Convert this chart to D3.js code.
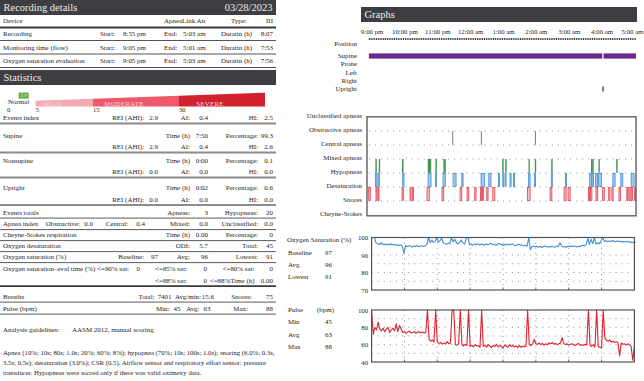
<!DOCTYPE html>
<html>
<head>
<meta charset="utf-8">
<script src="https://cdn.jsdelivr.net/npm/d3@7/dist/d3.min.js"></script>
<style>
html,body{margin:0;padding:0;background:#fff;overflow:hidden}
svg{display:block}
text{font-family:"Liberation Serif","Times New Roman",serif}
</style>
</head>
<body>
<svg id="chart" width="644" height="381"></svg>
<script>
// ---------------- DATA ----------------
const reportDate = "03/28/2023";
const deviceInfo = ["Device", "ApneaLink Air", "Type:", "III"];
const recordingLabels = ["Start:", "End:", "Duratin (h)"];
const recordingRows = [
  ["Recording", "8:55 pm", "5:03 am", "8:07"],
  ["Monitoring time (flow)", "9:05 pm", "5:01 am", "7:53"],
  ["Oxygen saturation evaluation", "9:05 pm", "5:03 am", "7:56"]
];
const severityBands = [["MILD", 5, 15], ["MODERATE", 15, 30], ["SEVERE", 30, 45]];
const severityTicks = [0, 5, 15, 30];
const normalLabel = "Normal";
const ahiValue = 2.9;

const statsRows = [
  ["Events index", [["p1", "REI (AHI):", "2.9"], ["p2", "AI:", "0.4"], ["p3", "HI:", "2.5"]]],
  ["Supine", [["p2", "Time (h)", "7:50"], ["p3", "Percentage:", "99.3"]]],
  ["", [["p1", "REI (AHI):", "2.9"], ["p2", "AI:", "0.4"], ["p3", "HI:", "2.6"]]],
  ["Nonsupine", [["p2", "Time (h)", "0:00"], ["p3", "Percentage:", "0.1"]]],
  ["", [["p1", "REI (AHI):", "0.0"], ["p2", "AI:", "0.0"], ["p3", "HI:", "0.0"]]],
  ["Upright", [["p2", "Time (h)", "0:02"], ["p3", "Percentage:", "0.6"]]],
  ["", [["p1", "REI (AHI):", "0.0"], ["p2", "AI:", "0.0"], ["p3", "HI:", "0.0"]]],
  ["Events totals", [["p2", "Apneas:", "3"], ["p3", "Hypopneas:", "20"]]],
  ["Apnea index", [["ob", "Obstructive:", "0.0"], ["ce", "Central:", "0.4"], ["p2", "Mixed:", "0.0"], ["p3", "Unclassified:", "0.0"]]],
  ["Cheyne-Stokes respiration", [["p2", "Time (h)", "0.00"], ["p3", "Percentage:", "0"]]],
  ["Oxygen desaturation", [["p2", "ODI:", "5.7"], ["p3", "Total:", "45"]]],
  ["Oxygen saturation (%)", [["p1", "Baseline:", "97"], ["p2", "Avg:", "96"], ["p3", "Lowest:", "91"]]],
  ["Oxygen saturation\u2013eval time (%)", [["e1", "<=90% sat:", "0"], ["e2", "<=85% sat:", "0"], ["e3", "<=80% sat:", "0"]]],
  ["", [["e2", "<=88% sat:", "0"], ["e3", "<=88%Time (h)", "0.00"]]],
  ["Breaths", [["b1", "Total:", "7401"], ["b2", "Avg/min:", "15.6"], ["b3", "Snores:", "75"]]],
  ["Pulse (bpm)", [["q1", "Min:", "45"], ["q2", "Avg:", "63"], ["q3", "Max:", "88"]]]
];
const guidelines = ["Analysis guidelines:", "AASM 2012, manual scoring"];
const notes = [
  "Apnea (10%; 10s; 80s; 1.0s; 20%; 60%; 8%); hypopnea (70%; 10s; 100s; 1.0s); snoring (6.0%; 0.3s,",
  "3.5s; 0.5s); desaturation (3.0%); CSR (0.5). Airflow sensor and respiratory effort sensor: pressure",
  "transducer. Hypopneas were socred only if there was valid oximetry data."
];

// time in minutes after 9:00 pm
const hourTicks = [0, 60, 120, 180, 240, 300, 360, 420, 480];
const hourLabels = ["9:00 pm", "10:00 pm", "11:00 pm", "12:00 am", "1:00 am", "2:00 am", "3:00 am", "4:00 am", "5:00 am"];
const positionRows = ["Supine", "Prone", "Left", "Right", "Upright"];
const positionSegments = [["Supine", -5, 421.3], ["Upright", 421.5, 423.3], ["Supine", 423.6, 483]];

const eventRows = ["Unclassified apneas", "Obstructive apneas", "Central apneas", "Mixed apneas", "Hypopneas", "Desaturation", "Snores", "Cheyne-Stokes"];
const centralApneas = [148.2, 200.5, 299.2];
const hypopneas = [[7.7,8.5],[13.8,14.6],[56.5,57.3],[103.2,104.2],[105.2,106.2],[107,108],[117.3,118.1],[131.8,132.6],[133.8,134.6],[239.3,240.1],[244.8,245.6],[287.4,288.2],[298.8,299.6],[328.8,329.6],[401.8,402.8],[403.8,404.6],[415.2,416],[447.5,448.3]];
const desaturations = [[7.1,9.9],[11.7,14.4],[56.8,59.2],[103.1,108.6],[116.8,118.6],[130.5,134.7],[148.8,154.3],[164.7,167.1],[199.9,206],[214,218.2],[231.6,233.4],[239.6,241.4],[243.8,245.6],[252.9,254.8],[259.3,261.2],[286.4,289.5],[297.7,299.5],[328.2,330.1],[354.4,356.2],[398.3,401.4],[402.6,405.3],[409.2,412.9],[414.7,420.2],[440.6,444.8],[455.2,458.9],[474,479.5]];
const snores = [[-5.3,-2.4],[8,9.9],[11.7,13.5],[55.6,57.9],[70.2,72],[74.7,76.6],[101.2,105.4],[128.6,131.7],[161.6,164.7],[174.4,177.5],[188.4,190.8],[198.7,200.5],[202.3,204.1],[210.4,212.7],[221.3,225],[284.6,289.5],[326,329.2],[351.6,355.3],[358.9,362.6],[396,398.2],[400,402.3],[409.8,412.9],[422.1,425],[433.1,435.3],[438.9,441.1],[451.8,454.9],[466.2,467.9],[469.8,472.2],[474,476.3],[479.9,482.1]];

const spo2Start = 5, spo2Step = 3;
const spo2Values = [
  100, 97, 96.5, 96, 97, 96,
  96.3, 95.8, 96.2, 95.9, 96.4, 95.7, 96.1, 95.6, 95.9, 95.4, 95.8, 95.2,
  91,
  95.4, 94.8, 95.3, 95.1, 94.6, 95.2, 94.9, 95.5, 94.7, 95.0, 95.3, 94.8, 95.2, 96.0,
  100,
  97, 98.5, 97.2, 97.8,
  99.8,
  97.3, 98.2, 99.5,
  97, 96.5, 96.2, 96.8, 96.4,
  100,
  97.5, 99, 97, 96.4, 97.2, 98.6, 96.8, 96.2,
  99.9, 100,
  95.8, 96.1, 95.5, 96.3, 95.9, 96.5, 95.7, 96.2, 96.0, 95.6, 96.4, 95.8, 96.3, 96.7, 95.9, 96.2, 95.5, 96.1,
  96.6, 95.8, 96.0, 95.4, 96.3, 95.7, 96.1, 95.9, 96.4, 95.6, 95.3, 95.9, 96.2, 95.5, 95.8, 95.2, 95.6, 95.0,
  100, 93,
  94.8, 95.1, 94.6, 95.0, 94.5, 94.9, 94.3, 94.8, 95.2, 94.6, 94.9, 94.4, 95.0, 94.7, 94.5, 95.1, 94.8,
  97, 95.2, 94.6, 94.9, 94.4, 95.0, 94.7, 95.3, 94.8, 95.1, 94.5, 95.0, 94.7, 95.3, 95.6, 95.2, 96,
  99.5, 96, 99, 96.5, 100, 96.2, 97, 96.4, 98,
  100,
  97.8, 98.2, 97.6, 98.0, 97.7, 98.3, 97.9, 97.5, 98.1, 97.6, 97.8, 97.3, 97.7, 97.4, 97.9, 97.2, 97.6, 97.0, 97.5, 97.2
];
const spo2Ticks = [70, 80, 90, 100];
const spo2Grid = [75, 80, 85, 90];
const spo2Summary = [["Baseline", "97"], ["Avg", "96"], ["Lowest", "91"]];

const pulseStart = 0, pulseStep = 3;
const pulseValues = [
  100, 72, 80, 77, 86, 78,
  76, 79, 75, 78, 80, 74, 77, 79, 76, 84, 75, 82, 78,
  74, 75, 73, 74.5, 75.5, 73.5, 74, 75, 73, 74.5, 75, 73.8, 74.6, 73.5, 74.2,
  100, 66, 64, 65.5, 63,
  100,
  63, 61.5, 62.5, 60.5, 62, 61, 63.5, 61,
  62, 100, 100, 60,
  59.5, 61,
  100,
  60, 58.5, 60.5, 59,
  100,
  58, 59.5, 57.5, 60, 58.5, 59, 57,
  100,
  58, 59.5, 57, 60, 58.5, 56.5, 59, 58, 60.5, 57.5, 59, 58, 56, 59.5, 58.5, 57, 60, 58, 59, 57.5, 58.5, 56.5, 59, 57, 58.5, 57.5,
  58, 100, 60,
  59, 61, 66,
  61, 60.5, 62, 60, 61.5, 59.5, 61, 60, 62, 61, 62.5, 60.5, 61.5, 60, 61, 62,
  68, 61.5, 60, 61, 59.5, 60.5, 61, 60, 59, 60.5, 61.5, 59.5, 60, 59, 60.5, 59.5,
  100, 59, 58, 60, 57,
  100, 58, 57, 56,
  100,
  68, 65, 64, 65.5, 63, 64, 62.5, 63.5, 62,
  47,
  62, 60.5, 61, 59.5, 61, 60,
  58, 42, 59
];
const pulseTicks = [40, 60, 80, 100];
const pulseGrid = [50, 60, 70, 80, 90];
const pulseSummary = [["Min", "45"], ["Avg", "63"], ["Max", "88"]];

// ---------------- DRAWING ----------------
const svg = d3.select("#chart");
const HDR = "#3e3d42";
const FS = 6.95;
const HFS = 10.5;

function txt(g, x, y, s, o = {}) {
  return g.append("text").attr("x", x).attr("y", y)
    .attr("dominant-baseline", "central")
    .attr("text-anchor", o.anchor || "start")
    .attr("font-size", o.size || FS)
    .attr("fill", o.fill || "#1e1e1e")
    .text(s);
}
function hline(x1, x2, y, col, w) {
  svg.append("line").attr("x1", x1).attr("x2", x2).attr("y1", y).attr("y2", y)
    .attr("stroke", col).attr("stroke-width", w);
}

// ===== LEFT: Recording details =====
const L = { x0: 0, x1: 276 };
svg.append("rect").attr("x", 0).attr("y", 0).attr("width", L.x1).attr("height", 15).attr("fill", HDR);
txt(svg, 3.5, 7.8, "Recording details", { size: HFS, fill: "#ececec" });
txt(svg, 272.5, 7.8, reportDate, { size: HFS, fill: "#ececec", anchor: "end" });

txt(svg, 3, 21, deviceInfo[0]);
txt(svg, 164, 21, deviceInfo[1]);
txt(svg, 231, 21, deviceInfo[2]);
txt(svg, 273, 21, deviceInfo[3], { anchor: "end" });
hline(0, L.x1, 27.5, "#3a3a3a", 1.8);

const recY = [34, 47.5, 61];
recordingRows.forEach((r, i) => {
  const y = recY[i];
  txt(svg, 3, y, r[0]);
  txt(svg, 100, y, recordingLabels[0]);
  txt(svg, 123, y, r[1]);
  txt(svg, 164, y, recordingLabels[1]);
  txt(svg, 183, y, r[2]);
  txt(svg, 221, y, recordingLabels[2]);
  txt(svg, 273, y, r[3], { anchor: "end" });
  hline(0, L.x1, y + 6.5, "#555", 1.2);
});

// ===== Statistics header =====
svg.append("rect").attr("x", 0).attr("y", 70).attr("width", L.x1).attr("height", 15).attr("fill", HDR);
txt(svg, 3.5, 77.8, "Statistics", { size: HFS, fill: "#ececec" });

// ===== Severity wedge =====
const sev = d3.scaleLinear().domain([0, 45]).range([7, 265]);
const wedgeBottom = 106.5;
const wedgeTop = v => 101.7 - (sev(v) - sev(0)) * 0.035;
const sevColors = { MILD: "#f6a8b0", MODERATE: "#ee5a6c", SEVERE: "#d3222f" };
severityBands.forEach(([name, a, b]) => {
  svg.append("polygon")
    .attr("points", [[sev(a), wedgeBottom], [sev(a), wedgeTop(a)], [sev(b), wedgeTop(b)], [sev(b), wedgeBottom]].map(p => p.join(",")).join(" "))
    .attr("fill", sevColors[name]);
  txt(svg, (sev(a) + sev(b)) / 2 - 12, 103.3, name, { size: 6.8, fill: "#fbd4d8", anchor: "middle" })
    .attr("letter-spacing", 0.3);
});
severityTicks.forEach(v => txt(svg, sev(v), 109.8, String(v), { size: 6.6 }));
txt(svg, 8, 101.5, normalLabel, { size: 6.9 });
svg.append("rect").attr("x", sev(ahiValue) - 5).attr("y", 92.6).attr("width", 10).attr("height", 6).attr("fill", "#5aae48");
txt(svg, sev(ahiValue), 95.8, String(ahiValue), { size: 4.8, fill: "#eaf6e4", anchor: "middle" });

// ===== Stats table =====
const statCols = {
  p1: [144, 158], p2: [190, 208], p3: [258, 273],
  ob: [80, 93], ce: [128, 145],
  e1: [129, 140], e2: [187, 207], e3: [254.5, 273],
  b1: [154.5, 171.5], b2: [201, 214], b3: [252, 273],
  q1: [169.5, 180.5], q2: [199.5, 210.5], q3: [248, 273]
};
const statY = [118, 136, 147, 161, 172, 188, 199.5, 212.5, 224, 235, 246, 257, 268.5, 280.5, 296.5, 308.5];
const statSep = { 0: "g", 2: "g", 4: "g", 6: "g", 7: "t", 8: "t", 9: "t", 10: "t", 11: "t", 13: "d", 14: "t", 15: "t" };
const sepStyle = { g: ["#8c8c8c", 2], t: ["#4a4a4a", 0.9], d: ["#3a3a3a", 1.8] };
statsRows.forEach((row, i) => {
  const y = statY[i];
  if (row[0]) txt(svg, 3, y, row[0]);
  row[1].forEach(([k, lab, val]) => {
    const c = statCols[k];
    txt(svg, c[0], y, lab, { anchor: "end" });
    txt(svg, c[1], y, val, { anchor: "end" });
  });
  if (statSep[i]) {
    const s = sepStyle[statSep[i]];
    hline(0, L.x1, y + 5.6, s[0], s[1]);
  }
});
txt(svg, 3, 330, guidelines[0]);
txt(svg, 72, 330, guidelines[1]);
notes.forEach((n, i) => txt(svg, 3, 352 + i * 10, n, { size: 6.75 }));

// ===== RIGHT: Graphs =====
svg.append("rect").attr("x", 361).attr("y", 7).attr("width", 276).attr("height", 15).attr("fill", HDR);
txt(svg, 364.5, 14.8, "Graphs", { size: HFS, fill: "#ececec" });

const tx = d3.scaleLinear().domain([0, 480]).range([371.6, 634.4]);

// time axis
const axisG = svg.append("g").attr("transform", "translate(0,37)")
  .call(d3.axisTop(tx).tickValues(hourTicks).tickFormat((d, i) => hourLabels[i]).tickSize(0).tickPadding(3));
axisG.select(".domain").remove();
axisG.selectAll("text").attr("font-size", 6.8).attr("fill", "#1e1e1e")
  .attr("font-family", "'Liberation Serif','Times New Roman',serif");
axisG.selectAll(".tick").filter((d, i, n) => i === n.length - 1).select("text")
  .attr("text-anchor", "end").attr("x", 643 - tx(480));
svg.append("line").attr("x1", tx(-5)).attr("x2", tx(483)).attr("y1", 39).attr("y2", 39)
  .attr("stroke", "#333").attr("stroke-width", 1.8).attr("stroke-dasharray", "1,0.8");

// position
const py = d3.scalePoint().domain(positionRows).range([56, 89]);
txt(svg, 357, 44, "Position", { anchor: "end" });
positionRows.forEach(p => txt(svg, 357, py(p), p, { anchor: "end" }));
positionSegments.forEach(([p, a, b]) => {
  svg.append("rect").attr("x", tx(a)).attr("y", py(p) - 2.6).attr("width", Math.max(1.4, tx(b) - tx(a)))
    .attr("height", 5.2).attr("fill", "#6a2a8e");
});

// events
const ey = d3.scalePoint().domain(eventRows).range([116, 214]);
eventRows.forEach(r => txt(svg, 362, ey(r), r, { anchor: "end" }));
const eg = svg.append("g");
eventRows.slice(1, 7).forEach(r => {
  eg.append("line").attr("x1", tx(-5)).attr("x2", tx(482)).attr("y1", ey(r) + 1).attr("y2", ey(r) + 1)
    .attr("stroke", "#7a7a7a").attr("stroke-width", 0.9).attr("stroke-dasharray", "0.9,5.2");
});
function band(row) {
  const i = eventRows.indexOf(row);
  return [ey(eventRows[i - 1]) + 1, ey(row) + 1];
}
function drawEvents(data, row, fill, stroke) {
  const [y0, y1] = band(row);
  eg.selectAll(null).data(data).enter().append("rect")
    .attr("x", d => tx(d[0]))
    .attr("y", y0 + 0.4)
    .attr("width", d => Math.max(0.6, tx(d[1]) - tx(d[0])))
    .attr("height", y1 - y0 - 0.8)
    .attr("fill", fill).attr("stroke", stroke).attr("stroke-width", 0.8);
}
{
  const [y0, y1] = band("Central apneas");
  eg.selectAll(null).data(centralApneas).enter().append("line")
    .attr("x1", d => tx(d)).attr("x2", d => tx(d)).attr("y1", y0).attr("y2", y1)
    .attr("stroke", "#7d7d7d").attr("stroke-width", 1);
}
drawEvents(hypopneas, "Hypopneas", "#a6d3b0", "#46945a");
drawEvents(desaturations, "Desaturation", "#a3cbee", "#3f8ed2");
drawEvents(snores, "Snores", "#f8c0c5", "#e23b49");
svg.append("rect").attr("x", tx(-8.4)).attr("y", 116.8).attr("width", tx(483) - tx(-8.4)).attr("height", 99)
  .attr("fill", "none").attr("stroke", "#6a6a6a").attr("stroke-width", 1.5);

// generic time-series chart
function seriesChart(cfg) {
  const y = d3.scaleLinear().domain(cfg.domain).range([cfg.bottom, cfg.top]);
  const g = svg.append("g");
  cfg.grid.forEach(v => g.append("line").attr("x1", tx(0)).attr("x2", tx(480)).attr("y1", y(v)).attr("y2", y(v))
    .attr("stroke", "#777").attr("stroke-width", 0.9).attr("stroke-dasharray", "0.9,5.2"));
  hourTicks.slice(1, -1).forEach(h => {
    g.append("line").attr("x1", tx(h)).attr("x2", tx(h)).attr("y1", cfg.top).attr("y2", cfg.bottom)
      .attr("stroke", "#777").attr("stroke-width", 0.9).attr("stroke-dasharray", "0.9,4.3");
    g.append("line").attr("x1", tx(h)).attr("x2", tx(h)).attr("y1", cfg.bottom - 2.5).attr("y2", cfg.bottom)
      .attr("stroke", "#555").attr("stroke-width", 0.9);
  });
  const line = d3.line().x((d, i) => tx(cfg.start + i * cfg.step)).y(d => y(d));
  g.append("path").datum(cfg.values).attr("d", line).attr("fill", "none")
    .attr("stroke", cfg.color).attr("stroke-width", 1.1).attr("stroke-linejoin", "round");
  g.append("rect").attr("x", tx(0)).attr("y", cfg.top).attr("width", tx(480) - tx(0)).attr("height", cfg.bottom - cfg.top)
    .attr("fill", "none").attr("stroke", "#555").attr("stroke-width", 1.2);
  const ax = g.append("g").attr("transform", `translate(${tx(0)},0)`)
    .call(d3.axisLeft(y).tickValues(cfg.ticks).tickSize(0).tickPadding(3.5));
  ax.select(".domain").remove();
  ax.selectAll("text").attr("font-size", 6.8).attr("fill", "#1e1e1e")
    .attr("font-family", "'Liberation Serif','Times New Roman',serif");
}

seriesChart({ domain: [70, 100], top: 237.5, bottom: 290, grid: spo2Grid, ticks: spo2Ticks,
  values: spo2Values, start: spo2Start, step: spo2Step, color: "#3d8fd6" });
txt(svg, 287, 240, "Oxygen Saturation (%)");
spo2Summary.forEach(([k, v], i) => { txt(svg, 288, 252.5 + i * 12.3, k); txt(svg, 325, 252.5 + i * 12.3, v); });

seriesChart({ domain: [40, 100], top: 310, bottom: 362, grid: pulseGrid, ticks: pulseTicks,
  values: pulseValues, start: pulseStart, step: pulseStep, color: "#e0202c" });
txt(svg, 288, 309.5, "Pulse");
txt(svg, 317, 309.5, "(bpm)");
pulseSummary.forEach(([k, v], i) => { txt(svg, 288, 322 + i * 12.6, k); txt(svg, 325, 322 + i * 12.6, v); });
</script>
</body>
</html>
